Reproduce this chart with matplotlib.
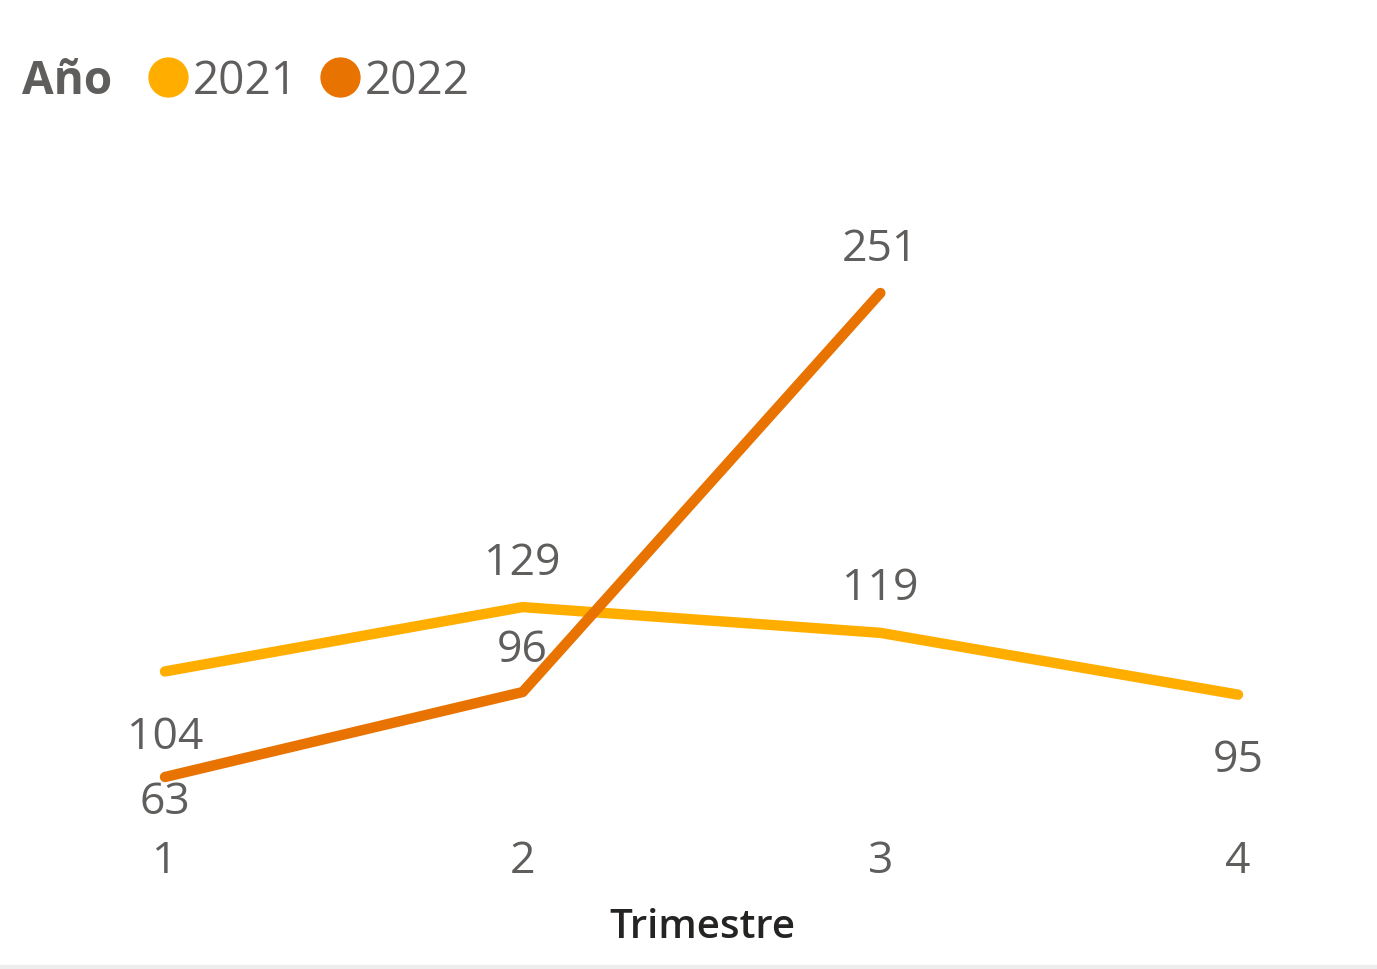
import matplotlib
matplotlib.use("Agg")
import matplotlib.pyplot as plt
from matplotlib.lines import Line2D

# datos
trimestres = [1, 2, 3, 4]
valores_2021 = [104, 129, 119, 95]
trimestres_2022 = [1, 2, 3]
valores_2022 = [63, 96, 251]
# posicion de la etiqueta: 1 arriba, -1 abajo
pos_2021 = [-1, 1, 1, -1]
pos_2022 = [-1, 1, 1]

c21 = '#FFAE00'
c22 = '#E87300'
gris = '#605E5C'
fs = 32
ajuste = 4  # Open Sans centra algo alto, bajamos unos px

plt.rcParams['font.family'] = ['Open Sans', 'DejaVu Sans']

fig = plt.figure(figsize=(13.77, 9.7), dpi=100)
# ejes ubicados a mano para casar con la referencia
ax = fig.add_axes([165 / 1377, 192 / 970, (1238 - 165) / 1377, (778 - 294) / 970])
ax.set_xlim(1, 4)
ax.set_ylim(63, 251)
ax.axis('off')

ax.plot(trimestres, valores_2021, color=c21, lw=7.5, solid_capstyle='round',
        solid_joinstyle='round', clip_on=False)
ax.plot(trimestres_2022, valores_2022, color=c22, lw=7.5, solid_capstyle='round',
        solid_joinstyle='round', clip_on=False)

for x, y, p in zip(trimestres, valores_2021, pos_2021):
    dy = 35 if p > 0 else -44
    ax.annotate(str(y), (x, y), xytext=(0, dy - ajuste * 0.72), textcoords='offset points',
                ha='center', va='center', fontsize=fs, color=gris)

# el 63 queda pegado a la linea como en la referencia
for x, y, p in zip(trimestres_2022, valores_2022, pos_2022):
    dy = 35 if p > 0 else -15
    if y == 96:
        dy = 33
    ax.annotate(str(y), (x, y), xytext=(0, dy - ajuste * 0.72), textcoords='offset points',
                ha='center', va='center', fontsize=fs, color=gris)

# ticks del eje x
for t in trimestres:
    fig.text((165 + (t - 1) * (1238 - 165) / 3) / 1377, 1 - (858 + ajuste) / 970, str(t),
             ha='center', va='center', fontsize=fs, color=gris)

fig.text(702 / 1377, 1 - (924 + ajuste) / 970, 'Trimestre', ha='center', va='center',
         fontsize=29, color='#252423', fontweight='semibold')

# leyenda
yl = 1 - (78 + ajuste) / 970
fig.text(22 / 1377, yl, 'Año', ha='left', va='center', fontsize=33,
         color=gris, fontweight='bold')
fig.add_artist(Line2D([168 / 1377], [1 - 78 / 970], marker='o', markersize=28,
                      color=c21, transform=fig.transFigure))
fig.text(193 / 1377, yl, '2021', ha='left', va='center', fontsize=33, color=gris)
fig.add_artist(Line2D([340 / 1377], [1 - 78 / 970], marker='o', markersize=28,
                      color=c22, transform=fig.transFigure))
fig.text(365 / 1377, yl, '2022', ha='left', va='center', fontsize=33, color=gris)

fig.add_artist(Line2D([0, 1], [1 - 968 / 970, 1 - 968 / 970], color='#EDEDED', lw=3,
                      transform=fig.transFigure))

fig.savefig('out.png', dpi=100)
